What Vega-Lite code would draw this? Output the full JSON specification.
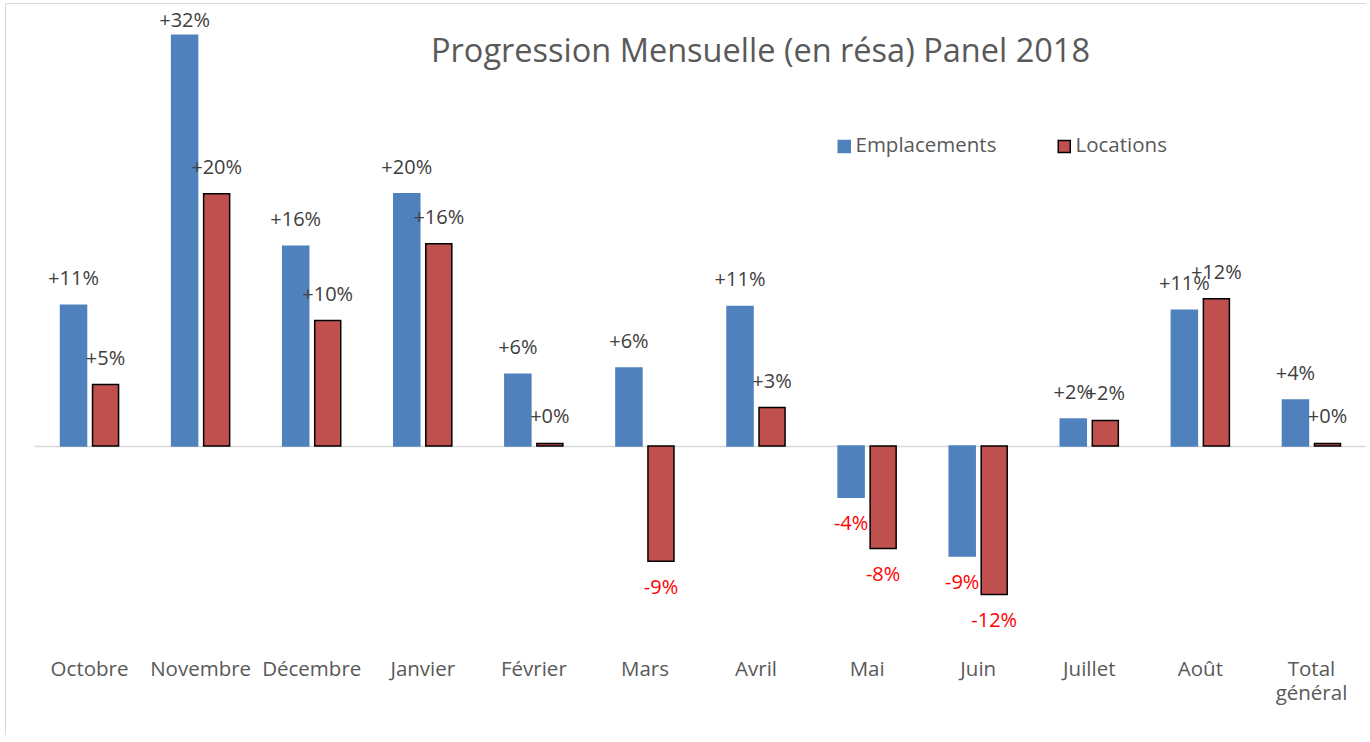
{
  "$schema": "https://vega.github.io/schema/vega-lite/v6.json",
  "width": 1361,
  "height": 732,
  "autosize": {"type": "none"},
  "padding": {"left": 5, "top": 3, "right": 0, "bottom": 0},
  "background": "white",
  "title": {
    "text": "Progression Mensuelle (en résa) Panel 2018",
    "orient": "top",
    "anchor": "middle",
    "offset": -91,
    "baseline": "alphabetic",
    "dx": 75,
    "fontSize": 32.5,
    "font": "Open Sans",
    "fontWeight": "normal",
    "color": "#595959"
  },
  "config": {
    "view": {"stroke": "#d9d9d9", "strokeWidth": 1},
    "font": "Open Sans",
    "locale": {"number": {"decimal": ".", "thousands": ",", "grouping": [3], "currency": ["", ""], "minus": "-"}}
  },
  "data": {
    "values": [
      {"mois": "Octobre", "serie": "Emplacements", "value": 0.110},
      {"mois": "Octobre", "serie": "Locations", "value": 0.048},
      {"mois": "Novembre", "serie": "Emplacements", "value": 0.321},
      {"mois": "Novembre", "serie": "Locations", "value": 0.197},
      {"mois": "Décembre", "serie": "Emplacements", "value": 0.156},
      {"mois": "Décembre", "serie": "Locations", "value": 0.098},
      {"mois": "Janvier", "serie": "Emplacements", "value": 0.197},
      {"mois": "Janvier", "serie": "Locations", "value": 0.158},
      {"mois": "Février", "serie": "Emplacements", "value": 0.056},
      {"mois": "Février", "serie": "Locations", "value": 0.002},
      {"mois": "Mars", "serie": "Emplacements", "value": 0.061},
      {"mois": "Mars", "serie": "Locations", "value": -0.090},
      {"mois": "Avril", "serie": "Emplacements", "value": 0.109},
      {"mois": "Avril", "serie": "Locations", "value": 0.030},
      {"mois": "Mai", "serie": "Emplacements", "value": -0.040},
      {"mois": "Mai", "serie": "Locations", "value": -0.080},
      {"mois": "Juin", "serie": "Emplacements", "value": -0.086},
      {"mois": "Juin", "serie": "Locations", "value": -0.116},
      {"mois": "Juillet", "serie": "Emplacements", "value": 0.021},
      {"mois": "Juillet", "serie": "Locations", "value": 0.020},
      {"mois": "Août", "serie": "Emplacements", "value": 0.106},
      {"mois": "Août", "serie": "Locations", "value": 0.115},
      {"mois": "Total général", "serie": "Emplacements", "value": 0.036},
      {"mois": "Total général", "serie": "Locations", "value": 0.002}
    ]
  },
  "encoding": {
    "x": {
      "field": "mois",
      "type": "nominal",
      "sort": null,
      "scale": {"range": [29, 1362], "paddingInner": 0, "paddingOuter": 0},
      "axis": {
        "title": null,
        "orient": "bottom",
        "offset": -76,
        "domain": false,
        "ticks": false,
        "labelPadding": 0,
        "labelFontSize": 20.5,
        "labelFont": "Open Sans",
        "labelColor": "#595959",
        "labelAngle": 0,
        "labelOverlap": false,
        "labelExpr": "split(datum.label, ' ')",
        "labelLineHeight": 24
      }
    },
    "xOffset": {
      "field": "serie",
      "type": "nominal",
      "sort": ["Emplacements", "Locations"],
      "scale": {"paddingInner": 0.1875, "paddingOuter": 0.828}
    },
    "y": {
      "field": "value",
      "type": "quantitative",
      "scale": {"domain": [-0.2258, 0.3461], "nice": false, "zero": false},
      "axis": {
        "values": [0],
        "grid": true,
        "gridColor": "#d9d9d9",
        "gridWidth": 1.5,
        "labels": false,
        "ticks": false,
        "domain": false,
        "title": null
      }
    }
  },
  "layer": [
    {
      "mark": {"type": "bar", "strokeWidth": 1.5},
      "encoding": {
        "color": {
          "field": "serie",
          "type": "nominal",
          "scale": {"domain": ["Emplacements", "Locations"], "range": ["#4F81BD", "#C0504D"]},
          "legend": {
            "title": null,
            "orient": "none",
            "legendX": 829,
            "legendY": 133,
            "direction": "horizontal",
            "symbolType": "square",
            "symbolSize": 144,
            "labelFontSize": 20.5,
            "labelFont": "Open Sans",
            "labelColor": "#595959",
            "labelOffset": 1,
            "columnPadding": 57,
            "padding": 0
          }
        },
        "stroke": {
          "field": "serie",
          "type": "nominal",
          "scale": {"domain": ["Emplacements", "Locations"], "range": ["#4F81BD", "#000000"]},
          "legend": {
            "title": null,
            "orient": "none",
            "legendX": 829,
            "legendY": 133,
            "direction": "horizontal",
            "symbolType": "square",
            "symbolSize": 144,
            "labelFontSize": 20.5,
            "labelFont": "Open Sans",
            "labelColor": "#595959",
            "labelOffset": 1,
            "columnPadding": 57,
            "padding": 0
          }
        }
      }
    },
    {
      "transform": [{"filter": "datum.value >= 0 && datum.value < 0.3"}],
      "mark": {"type": "text", "fontSize": 20, "font": "Open Sans", "baseline": "middle", "dy": -26, "color": "#404040"},
      "encoding": {"text": {"field": "value", "type": "quantitative", "format": "+.0%"}}
    },
    {
      "transform": [{"filter": "datum.value >= 0.3"}],
      "mark": {"type": "text", "fontSize": 20, "font": "Open Sans", "baseline": "middle", "dy": -14, "color": "#404040"},
      "encoding": {"text": {"field": "value", "type": "quantitative", "format": "+.0%"}}
    },
    {
      "transform": [{"filter": "datum.value < 0"}],
      "mark": {"type": "text", "fontSize": 20, "font": "Open Sans", "baseline": "middle", "dy": 27, "color": "#FF0000"},
      "encoding": {"text": {"field": "value", "type": "quantitative", "format": "+.0%"}}
    }
  ]
}
